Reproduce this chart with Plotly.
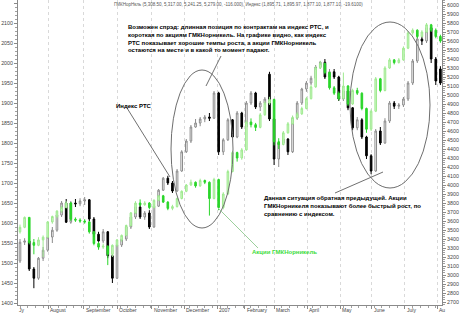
import plotly.graph_objects as go

# trading-day index of each candle (every 3rd trading day)
days = list(range(0, 276, 3))

rts_open = [1505,1552,1555,1485,1462,1512,1532,1565,1582,1620,1650,1602,1650,1648,1655,1658,1610,1572,1555,1578,
            1518,1462,1545,1560,1590,1615,1640,1615,1625,1590,1642,1682,1712,1700,1680,1730,1778,1805,1840,1850,
            1860,1865,1862,1925,1778,1808,1858,1815,1875,1840,1900,1925,1890,1900,1972,1860,1760,1800,1810,1778,
            1862,1900,1935,1950,1962,1990,2002,1965,1978,1965,1910,1930,1888,1838,1858,1815,1768,1730,1830,1800,
            1855,1900,1892,1895,1910,1950,2005,2060,2055,2088,2010,1985]
rts_high = [1560,1562,1558,1490,1515,1540,1568,1590,1625,1655,1660,1655,1660,1662,1665,1660,1615,1578,1585,1580,
            1522,1548,1565,1595,1620,1645,1648,1630,1632,1648,1685,1715,1718,1705,1735,1782,1810,1845,1860,1865,
            1870,1875,1930,1928,1812,1862,1860,1880,1878,1905,1930,1928,1905,1915,1978,1862,1805,1815,1812,1868,
            1905,1938,1955,1968,1995,2005,2010,1985,1985,1968,1935,1932,1890,1865,1862,1818,1772,1835,1840,1862,
            1905,1905,1900,1915,1955,2010,2068,2068,2092,2090,2015,1992]
rts_low = [1500,1545,1480,1437,1458,1505,1528,1550,1578,1615,1600,1598,1640,1642,1645,1605,1565,1535,1550,1512,
           1450,1460,1540,1555,1585,1610,1610,1608,1585,1588,1640,1680,1695,1675,1678,1728,1775,1800,1838,1842,
           1852,1855,1860,1770,1770,1805,1812,1812,1835,1835,1895,1885,1880,1895,1855,1745,1740,1795,1770,1775,
           1858,1895,1928,1945,1958,1985,1960,1960,1960,1905,1905,1882,1832,1832,1810,1760,1722,1728,1795,1798,
           1850,1885,1885,1890,1905,1945,2000,2045,2050,2000,1945,1945]
rts_close = [1552,1555,1485,1462,1512,1532,1565,1582,1620,1650,1602,1650,1648,1655,1658,1610,1572,1555,1578,1518,
             1462,1545,1560,1590,1615,1640,1615,1625,1590,1642,1682,1712,1700,1680,1730,1778,1805,1840,1850,1860,
             1865,1862,1925,1778,1808,1858,1815,1875,1840,1900,1925,1890,1900,1910,1860,1760,1800,1810,1778,1862,
             1900,1935,1950,1962,1990,2002,1965,1978,1965,1910,1930,1888,1838,1858,1815,1768,1730,1830,1800,1855,
             1900,1892,1895,1910,1950,2005,2060,2055,2088,2010,1955,1950]

gmk_open = [3480,3530,3640,3360,3330,3390,3420,3590,3650,3710,3750,3800,3620,3610,3600,3590,3480,3350,3310,3320,
            3230,3330,3390,3440,3550,3690,3800,3780,3800,3750,3830,3880,3810,3740,3760,3850,3930,4000,4030,3990,
            4050,4030,3850,4060,3750,3900,4150,4360,4300,4390,4700,4670,4640,4780,4910,4950,4480,4450,4580,4680,
            4750,4790,4850,4960,5090,5300,5350,5250,5080,5020,4960,5100,4900,5050,5020,4850,4620,4820,5180,5050,
            5300,5390,5360,5390,5520,5690,5720,5650,5700,5780,5720,5650]
gmk_high = [3560,3650,3645,3400,3420,3440,3600,3660,3720,3770,3820,3810,3640,3630,3620,3600,3490,3370,3350,3330,
            3340,3400,3450,3560,3700,3820,3840,3820,3810,3840,3890,3890,3820,3780,3860,3940,4010,4060,4040,4070,
            4060,4040,4080,4070,3920,4170,4380,4370,4410,4720,4740,4690,4800,4930,4980,4960,4520,4600,4700,4770,
            4810,4870,4980,5110,5320,5380,5360,5260,5100,5040,5250,5110,5070,5080,5030,4860,4840,5200,5190,5320,
            5410,5400,5410,5540,5710,5740,5730,5720,5800,5790,5740,5670]
gmk_low = [3460,3520,3340,3230,3320,3200,3410,3570,3630,3690,3740,3600,3590,3580,3570,3460,3330,3280,3290,3110,
           3200,3310,3370,3430,3540,3680,3760,3770,3730,3740,3820,3800,3720,3720,3750,3840,3920,3990,3970,3980,
           4010,3660,3840,3720,3730,3890,4140,4260,4280,4380,4640,4600,4630,4770,4890,4440,4400,4440,4570,4670,
           4730,4780,4840,4950,5080,5290,5230,5060,5000,4940,4950,4880,4890,5000,4830,4580,4600,4810,5030,5040,
           5290,5340,5350,5380,5510,5670,5630,5640,5690,5700,5630,5580]
gmk_close = [3530,3640,3360,3330,3390,3420,3590,3650,3710,3750,3800,3620,3610,3600,3590,3480,3350,3310,3320,3230,
             3330,3390,3440,3550,3690,3800,3780,3800,3750,3830,3880,3810,3740,3760,3850,3930,4000,4030,3990,4050,
             4030,3850,4060,3750,3900,4150,4360,4300,4390,4700,4670,4640,4780,4910,4950,4480,4450,4580,4680,4750,
             4790,4850,4960,5090,5300,5350,5250,5080,5020,4960,5100,4900,5050,5020,4850,4620,4820,5180,5050,5300,
             5390,5360,5390,5520,5690,5720,5650,5700,5780,5720,5650,5600]

month_days = [18.5, 41.5, 63, 85.5, 106.5, 128, 146, 165, 186.5, 208, 228.5, 250, 271]
month_labels = ["August", "September", "October", "November", "December", "2007",
                "February", "March", "April", "May", "June", "July", "Au"]

header = ("ГМКНорНкль (5,308.50, 5,317.00, 5,241.25, 5,279.00, -116.000), "
          "Индекс (1,895.71, 1,895.97, 1,877.10, 1,877.10, -19.6100)")
note1 = ("Возможен спрэд: длинная позиция по контрактам на индекс РТС, и<br>"
         "короткая по акциям ГМКНорникель. На графике видно, как индекс<br>"
         "РТС показывает хорошие темпы роста, а акции ГМКНорникель<br>"
         "остаются на месте и в какой то момент падают.")
note2 = "Индекс РТС"
note3 = ("Данная ситуация обратная предыдущей. Акции<br>"
         "ГМКНорникеля показывают более быстрый рост, по<br>"
         "сравнению с индексом.")
note4 = "Акции ГМКНорникель"

FONT = "Liberation Sans, Arial, sans-serif"

fig = go.Figure()
fig.add_trace(go.Candlestick(
    x=days, open=gmk_open, high=gmk_high, low=gmk_low, close=gmk_close,
    yaxis="y2", name="ГМКНорНкль",
    increasing=dict(line=dict(color="#9fea90", width=1), fillcolor="#cdf6c2"),
    decreasing=dict(line=dict(color="#2ad62a", width=1), fillcolor="#2ad62a"),
    whiskerwidth=0, hoverinfo="skip"))
fig.add_trace(go.Candlestick(
    x=days, open=rts_open, high=rts_high, low=rts_low, close=rts_close,
    yaxis="y", name="Индекс",
    increasing=dict(line=dict(color="#8c8c8c", width=1), fillcolor="#ffffff"),
    decreasing=dict(line=dict(color="#000000", width=1), fillcolor="#000000"),
    whiskerwidth=0, hoverinfo="skip"))

def px2paper(px, py):
    return (px - 18) / 424.0, (305 - py) / 305.0

shapes = []
for (cx, cy, rx, ry) in [(202, 149, 31, 79), (390, 105, 40, 83)]:
    x0, y0 = px2paper(cx - rx, cy + ry)
    x1, y1 = px2paper(cx + rx, cy - ry)
    shapes.append(dict(type="circle", xref="paper", yref="paper", x0=x0, y0=y0, x1=x1, y1=y1,
                       line=dict(color="#6e6e6e", width=1)))
for (ax, ay, bx, by, col) in [(127, 108, 170, 177, "#707070"), (221, 56, 206, 86, "#707070"),
                              (335, 193, 383, 172, "#707070"), (218, 208, 258, 248, "#9ccf9c")]:
    x0, y0 = px2paper(ax, ay)
    x1, y1 = px2paper(bx, by)
    shapes.append(dict(type="line", xref="paper", yref="paper", x0=x0, y0=y0, x1=x1, y1=y1,
                       line=dict(color=col, width=1)))

annotations = []
def note(text, px, py, size, color="#000000", bold=True):
    x, y = px2paper(px, py)
    annotations.append(dict(text=("<b>%s</b>" % text) if bold else text, xref="paper", yref="paper",
                            x=x, y=y, xanchor="left", yanchor="top", align="left", showarrow=False,
                            borderpad=0, font=dict(family=FONT, size=size, color=color)))

note(header, 113, 1, 4.5, "#555555", bold=False)
note(note1, 127, 23, 6)
note(note2, 115, 102, 6)
note(note3, 263, 194, 6)
note(note4, 251, 248, 6, "#3cdc3c")

annotations.append(dict(text="Jy", xref="x", yref="paper", x=-1.0, y=0, yshift=-1,
                        xanchor="left", yanchor="top", showarrow=False, borderpad=0,
                        font=dict(family=FONT, size=5, color="#444444")))
for d, lab in zip(month_days, month_labels):
    annotations.append(dict(text=lab, xref="x", yref="paper", x=d, y=0, xshift=1, yshift=-1,
                            xanchor="left", yanchor="top", showarrow=False, borderpad=0,
                            font=dict(family=FONT, size=5, color="#444444")))

fig.update_layout(
    width=460, height=315,
    margin=dict(l=18, r=18, t=0, b=10),
    paper_bgcolor="white", plot_bgcolor="white",
    showlegend=False, boxgap=0.5,
    font=dict(family=FONT, size=5.3, color="#444444"),
    shapes=shapes, annotations=annotations,
    xaxis=dict(range=[-1.3, 274.04], tickmode="array", tickvals=month_days, showticklabels=False,
               showgrid=True, gridcolor="#d9d9d9", griddash="dot", gridwidth=1,
               showline=True, linecolor="#8a8a8a", linewidth=1, ticks="outside", ticklen=3,
               tickcolor="#8a8a8a", zeroline=False, rangeslider=dict(visible=False),
               minor=dict(ticks="outside", dtick=5, tick0=0, ticklen=2, tickcolor="#a0a0a0", showgrid=False)),
    yaxis=dict(range=[1395, 2157.5], dtick=50, tick0=1400, side="left", showgrid=False, zeroline=False,
               showline=True, linecolor="#8a8a8a", linewidth=1, ticks="outside", ticklen=3,
               tickcolor="#8a8a8a", tickfont=dict(size=5.3, color="#444444"),
               minor=dict(ticks="outside", dtick=10, ticklen=2, tickcolor="#a0a0a0", showgrid=False)),
    yaxis2=dict(range=[2666.7, 6055.6], dtick=100, tick0=2700, side="right", overlaying="y",
                showgrid=False, zeroline=False, showline=True, linecolor="#8a8a8a", linewidth=1,
                ticks="outside", ticklen=3, tickcolor="#8a8a8a", tickfont=dict(size=5.3, color="#444444"),
                minor=dict(ticks="outside", dtick=25, ticklen=2, tickcolor="#a0a0a0", showgrid=False)),
)

fig.write_html("out.html")
